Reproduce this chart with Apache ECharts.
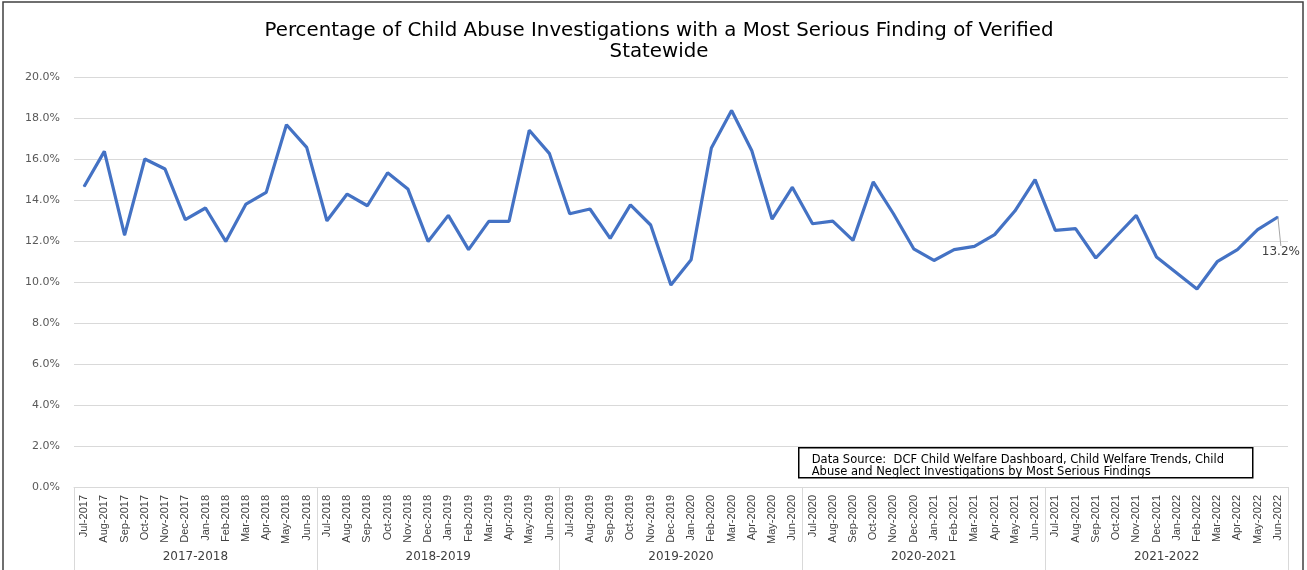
<!DOCTYPE html>
<html><head><meta charset="utf-8">
<script src="https://cdn.jsdelivr.net/npm/echarts@6/dist/echarts.min.js"></script>
<style>html,body{margin:0;padding:0;background:#fff}#c{width:1307px;height:570px}</style>
</head><body><div id="c"></div>
<script>
const titleText = 'Percentage of Child Abuse Investigations with a Most Serious Finding of Verified\nStatewide';
const months = [
 'Jul-2017','Aug-2017','Sep-2017','Oct-2017','Nov-2017','Dec-2017','Jan-2018','Feb-2018','Mar-2018','Apr-2018','May-2018','Jun-2018',
 'Jul-2018','Aug-2018','Sep-2018','Oct-2018','Nov-2018','Dec-2018','Jan-2019','Feb-2019','Mar-2019','Apr-2019','May-2019','Jun-2019',
 'Jul-2019','Aug-2019','Sep-2019','Oct-2019','Nov-2019','Dec-2019','Jan-2020','Feb-2020','Mar-2020','Apr-2020','May-2020','Jun-2020',
 'Jul-2020','Aug-2020','Sep-2020','Oct-2020','Nov-2020','Dec-2020','Jan-2021','Feb-2021','Mar-2021','Apr-2021','May-2021','Jun-2021',
 'Jul-2021','Aug-2021','Sep-2021','Oct-2021','Nov-2021','Dec-2021','Jan-2022','Feb-2022','Mar-2022','Apr-2022','May-2022','Jun-2022'
];
const fiscalYears = ['2017-2018','2018-2019','2019-2020','2020-2021','2021-2022'];
const verifiedPct = [
 14.66,16.37,12.29,16.00,15.51,13.04,13.61,11.98,13.80,14.37,17.67,16.57,
 12.99,14.29,13.72,15.33,14.54,11.98,13.25,11.58,12.96,12.96,17.40,16.26,
 13.33,13.56,12.13,13.76,12.78,9.85,11.09,16.54,18.37,16.40,13.07,14.62,
 12.84,12.97,12.03,14.88,13.33,11.62,11.05,11.58,11.74,12.31,13.46,14.99,
 12.52,12.60,11.17,12.22,13.25,11.22,10.44,9.66,10.99,11.58,12.55,13.17
];
const yMin = 0, yMax = 20, yInterval = 2;
const sourceLines = ['Data Source:  DCF Child Welfare Dashboard, Child Welfare Trends, Child',
                     'Abuse and Neglect Investigations by Most Serious Findings'];

const last = verifiedPct.length - 1;
const seriesData = verifiedPct.map((v, i) => i === last
  ? {value: v, label: {show: true, position: 'inside', formatter: p => p.value.toFixed(1) + '%',
      color: '#404040', fontSize: 12, fontFamily: 'DejaVu Sans'}}
  : v);

const chart = echarts.init(document.getElementById('c'), null, {renderer: 'canvas'});
chart.setOption({
  backgroundColor: '#fff',
  animation: false,
  title: {
    text: titleText, left: 654, top: 15, textAlign: 'center',
    textStyle: {fontFamily: '"DejaVu Sans", sans-serif', fontSize: 19.8, fontWeight: 'normal', color: '#000', lineHeight: 21}
  },
  grid: {left: 74, right: 19, top: 77, bottom: 83, containLabel: false},
  xAxis: [{
    type: 'category', data: months, boundaryGap: true,
    axisLine: {show: true, lineStyle: {color: '#d9d9d9', width: 1}},
    axisTick: {show: false},
    axisLabel: {interval: 0, rotate: 90, margin: 8, fontSize: 11, color: '#404040',
      fontFamily: '"Liberation Sans Narrow", "Arial Narrow", "Liberation Sans", sans-serif'}
  }, {
    type: 'category', data: fiscalYears, position: 'bottom', boundaryGap: true,
    axisLine: {show: false},
    axisTick: {show: true, interval: 0, length: 84, lineStyle: {color: '#d9d9d9', width: 1}},
    axisLabel: {interval: 0, margin: 64, fontSize: 12, color: '#404040', fontFamily: '"DejaVu Sans", sans-serif'},
    splitLine: {show: false}
  }],
  yAxis: {
    type: 'value', min: yMin, max: yMax, interval: yInterval,
    axisLine: {show: false}, axisTick: {show: false},
    axisLabel: {formatter: v => v.toFixed(1) + '%', fontSize: 11, color: '#595959', margin: 14,
      fontFamily: '"DejaVu Sans", sans-serif'},
    splitLine: {lineStyle: {color: '#d9d9d9', width: 1.2}}
  },
  series: [{
    type: 'line', data: seriesData, xAxisIndex: 0,
    symbol: 'circle', symbolSize: 1.5, showSymbol: true,
    lineStyle: {color: '#4472C4', width: 3.2},
    itemStyle: {color: '#4472C4'},
    label: {show: false},
    labelLine: {show: true, length2: 0, lineStyle: {color: '#a6a6a6', width: 1}},
    labelLayout: p => p.dataIndex === last ? {dx: 3, dy: 35} : {}
  }],
  graphic: [
    {type: 'rect', shape: {x: 3, y: 2, width: 1300, height: 580}, style: {fill: 'none', stroke: '#404040', lineWidth: 1.5}, silent: true},
    {type: 'group', left: 798, top: 447, children: [
      {type: 'rect', shape: {x: 0, y: 0, width: 454, height: 30}, style: {fill: '#fff', stroke: '#000', lineWidth: 1.5}},
      {type: 'text', x: 13, y: 6, style: {text: sourceLines.join('\n'), fontSize: 11.5, lineHeight: 12, fill: '#000', fontFamily: '"DejaVu Sans", sans-serif'}}
    ]}
  ]
});
</script></body></html>
